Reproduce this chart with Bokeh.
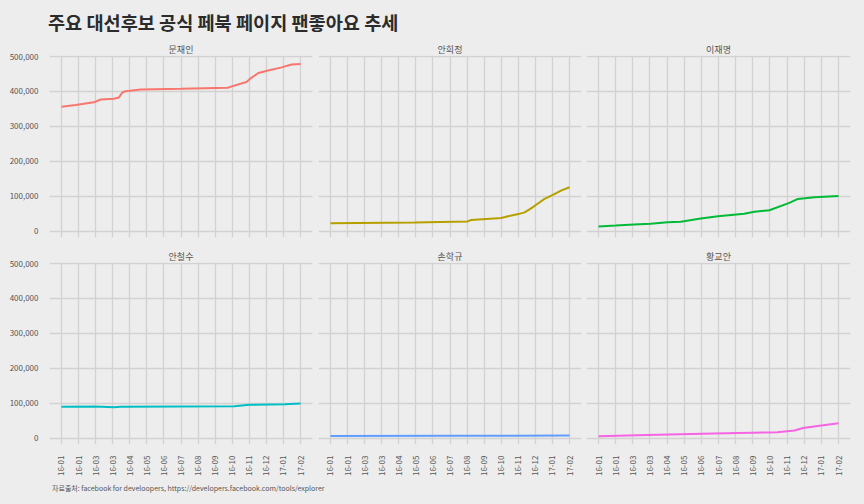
from bokeh.plotting import figure
from bokeh.models import Range1d, FixedTicker, NumeralTickFormatter, Div
from bokeh.layouts import row, column
from bokeh.embed import file_html
from bokeh.resources import INLINE
import math

# ---- data (x = days since 2016-01-01) ----
tick_days = [0, 30, 60, 90, 120, 150, 180, 210, 240, 270, 300, 330, 360, 390, 420]
tick_labels = ["16-01", "16-01", "16-03", "16-03", "16-04", "16-05", "16-06", "16-07",
               "16-08", "16-09", "16-10", "16-11", "16-12", "17-01", "17-02"]
y_ticks = [0, 100000, 200000, 300000, 400000, 500000]

names = ["문재인", "안희정", "이재명", "안철수", "손학규", "황교안"]
colors = ["#F8766D", "#B79F00", "#00BA38", "#00BFC4", "#619CFF", "#F564E3"]

moon_days = [0, 25, 57, 69, 92, 101, 107, 113, 139, 210, 292, 298, 316, 325, 331, 346, 363, 387, 404, 420]
moon_vals = [356000, 361000, 369000, 377000, 379000, 383000, 397000, 401000, 405500, 407500,
             410500, 414000, 423000, 427000, 436000, 453000, 460000, 469000, 477000, 479000]

ahnhj_days = [0, 147, 241, 247, 300, 312, 330, 341, 349, 353, 359, 376, 388, 406, 420]
ahnhj_vals = [22500, 25000, 28000, 32000, 38000, 43000, 49000, 54000, 62000, 66000, 73000,
              92500, 102000, 117000, 126000]

lee_days = [0, 30, 62, 91, 121, 144, 179, 209, 255, 273, 299, 334, 349, 378, 420]
lee_vals = [13500, 16300, 19500, 21500, 25500, 27000, 36500, 42500, 50000, 55500, 60000,
            81000, 92500, 97000, 101000]

ahncs_days = [0, 60, 92, 104, 304, 330, 392, 420]
ahncs_vals = [90000, 90500, 88500, 90000, 91500, 95500, 97500, 99500]

sohn_days = [0, 210, 420]
sohn_vals = [6500, 7000, 7800]

hwang_days = [0, 103, 202, 313, 343, 358, 390, 420]
hwang_vals = [5800, 9800, 13500, 17300, 22000, 29000, 36500, 43000]

series = [(moon_days, moon_vals), (ahnhj_days, ahnhj_vals), (lee_days, lee_vals),
          (ahncs_days, ahncs_vals), (sohn_days, sohn_vals), (hwang_days, hwang_vals)]

BG = "#EDEDED"
GRID = "#D2D2D2"
FONT = "Noto Sans CJK KR"
TXT = "#555555"

borders_lr = [(49, 3), (3, 3), (2, 14)]


def make_panel(i):
    r, c = divmod(i, 3)
    left, right = borders_lr[c]
    top = 14 if r == 0 else 22
    bottom = 3 if r == 0 else 34
    p = figure(frame_width=263 if c < 2 else 264, frame_height=182,
               x_range=Range1d(-21, 441), y_range=Range1d(-18000, 503000),
               output_backend="svg", toolbar_location=None,
               background_fill_color=BG, border_fill_color=BG, outline_line_color=None,
               min_border_left=left, min_border_right=right,
               min_border_top=top, min_border_bottom=bottom)
    p.title.text = names[i]
    p.title.align = "center"
    p.title.text_font = FONT
    p.title.text_font_size = "9px"
    p.title.text_font_style = "normal"
    p.title.text_color = TXT
    p.title.standoff = 0
    p.title.offset = 0

    d, v = series[i]
    p.line(d, v, line_color=colors[i], line_width=2)

    p.xaxis.ticker = FixedTicker(ticks=tick_days)
    p.xaxis.major_label_overrides = {t: l for t, l in zip(tick_days, tick_labels)}
    p.yaxis.ticker = FixedTicker(ticks=y_ticks)
    p.yaxis.formatter = NumeralTickFormatter(format="0,0")
    for ax in (p.xaxis[0], p.yaxis[0]):
        ax.axis_line_color = None
        ax.major_tick_line_color = None
        ax.minor_tick_line_color = None
        ax.major_label_text_font = FONT
        ax.major_label_text_font_size = "8px"
        ax.major_label_text_color = TXT
    p.xaxis.major_label_orientation = math.pi / 2
    p.xaxis.major_label_standoff = 5
    p.yaxis.major_label_standoff = 5
    p.xgrid.grid_line_color = GRID
    p.ygrid.grid_line_color = GRID
    p.xgrid.grid_line_width = 1.3
    p.ygrid.grid_line_width = 1.3
    p.xgrid.ticker = FixedTicker(ticks=tick_days)
    p.ygrid.ticker = FixedTicker(ticks=y_ticks)
    if r == 0:
        p.xaxis.visible = False
    if c > 0:
        p.yaxis.visible = False
    return p


panels = [make_panel(i) for i in range(6)]

title = Div(text='<div style="font-family:\'Noto Sans CJK KR\';font-size:18.6px;font-weight:bold;'
                 'color:#2b2b2b;padding-left:48px;padding-top:11px;line-height:22px;">'
                 '주요 대선후보 공식 페북 페이지 팬좋아요 추세</div>',
            width=864, height=40, margin=(0, 0, 0, 0),
            styles={"background-color": BG})
caption = Div(text='<div style="font-family:\'Noto Sans CJK KR\';font-size:7px;color:#555555;'
                   'padding-left:52px;padding-top:3px;line-height:10px;">'
                   '자료출처: facebook for develoopers, https://developers.facebook.com/tools/explorer</div>',
              width=864, height=26, margin=(0, 0, 0, 0),
              styles={"background-color": BG})

layout = column(title,
                row(panels[0], panels[1], panels[2], spacing=0),
                row(panels[3], panels[4], panels[5], spacing=0),
                caption, spacing=0, styles={"background-color": BG})

open("out.html", "w").write(file_html(layout, INLINE))
